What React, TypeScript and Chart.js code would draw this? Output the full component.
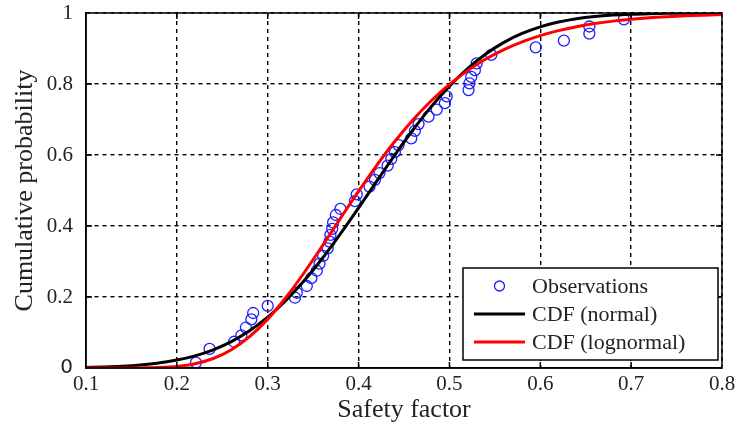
import React, { useEffect, useRef } from "react";
import { Chart, registerables } from "chart.js";

Chart.register(...registerables);

// Observations (safety factor, empirical cumulative probability)
const obsX = [0.221, 0.236, 0.263, 0.271, 0.276, 0.282, 0.284, 0.300, 0.330, 0.332, 0.343, 0.348, 0.354, 0.357, 0.361, 0.366, 0.368, 0.369, 0.371, 0.372, 0.375, 0.380, 0.396, 0.398, 0.412, 0.418, 0.423, 0.432, 0.436, 0.440, 0.444, 0.458, 0.462, 0.466, 0.477, 0.486, 0.495, 0.497, 0.521, 0.522, 0.524, 0.528, 0.530, 0.546, 0.595, 0.626, 0.654, 0.654, 0.692];
const obsY = [0.015, 0.054, 0.074, 0.092, 0.114, 0.137, 0.155, 0.175, 0.198, 0.212, 0.231, 0.253, 0.274, 0.294, 0.316, 0.337, 0.356, 0.375, 0.392, 0.410, 0.431, 0.448, 0.470, 0.489, 0.511, 0.530, 0.549, 0.570, 0.589, 0.608, 0.628, 0.647, 0.668, 0.687, 0.708, 0.728, 0.746, 0.765, 0.783, 0.802, 0.820, 0.839, 0.858, 0.882, 0.903, 0.922, 0.942, 0.962, 0.982];

// Fitted curves
const curveX = [0.10, 0.12, 0.14, 0.16, 0.18, 0.20, 0.22, 0.24, 0.26, 0.28, 0.30, 0.32, 0.34, 0.36, 0.38, 0.40, 0.42, 0.44, 0.46, 0.48, 0.50, 0.52, 0.54, 0.56, 0.58, 0.60, 0.62, 0.64, 0.66, 0.68, 0.70, 0.72, 0.74, 0.76, 0.78, 0.80];
const normalCdf = [0.0016, 0.0029, 0.0050, 0.0085, 0.0140, 0.0223, 0.0343, 0.0513, 0.0745, 0.1048, 0.1432, 0.1902, 0.2455, 0.3085, 0.3779, 0.4511, 0.5263, 0.6006, 0.6711, 0.7363, 0.7941, 0.8436, 0.8846, 0.9173, 0.9424, 0.9611, 0.9746, 0.9839, 0.9901, 0.9941, 0.9966, 0.9981, 0.9990, 0.9995, 0.9997, 0.9999];
const lognormalCdf = [0.0000, 0.0000, 0.0000, 0.0003, 0.0013, 0.0044, 0.0119, 0.0267, 0.0515, 0.0883, 0.1377, 0.1985, 0.2683, 0.3436, 0.4214, 0.4980, 0.5711, 0.6387, 0.6995, 0.7527, 0.7987, 0.8377, 0.8703, 0.8971, 0.9188, 0.9364, 0.9504, 0.9615, 0.9703, 0.9771, 0.9824, 0.9866, 0.9897, 0.9922, 0.9940, 0.9955];

const xMin = 0.1;
const xMax = 0.8;
const xStep = 0.1;
const yMin = 0;
const yMax = 1;
const yStep = 0.2;

const seriesLabels = ["Observations", "CDF (normal)", "CDF (lognormal)"];
const xTitle = "Safety factor";
const yTitle = "Cumulative probability";

const SERIF = "'Liberation Serif', 'Times New Roman', serif";
const OBS_COLOR = "#1f1fff";
const NORMAL_COLOR = "#000000";
const LOGN_COLOR = "#ff0000";

const framePlugin = {
  id: "frameAndLegend",
  afterDatasetsDraw(chart: any) {
    const { ctx, chartArea: a, scales } = chart;
    const xs = scales.x;
    const ys = scales.y;
    ctx.save();
    ctx.setLineDash([]);
    ctx.strokeStyle = "#000";
    ctx.lineWidth = 1.5;
    const tl = 6;
    ctx.beginPath();
    for (const t of xs.ticks) {
      const px = xs.getPixelForValue(t.value);
      if (px <= a.left + 1 || px >= a.right - 1) continue;
      ctx.moveTo(px, a.bottom);
      ctx.lineTo(px, a.bottom - tl);
      ctx.moveTo(px, a.top);
      ctx.lineTo(px, a.top + tl);
    }
    for (const t of ys.ticks) {
      const py = ys.getPixelForValue(t.value);
      if (py <= a.top + 1 || py >= a.bottom - 1) continue;
      ctx.moveTo(a.left, py);
      ctx.lineTo(a.left + tl, py);
      ctx.moveTo(a.right, py);
      ctx.lineTo(a.right - tl, py);
    }
    ctx.stroke();
    ctx.strokeRect(a.left, a.top, a.right - a.left, a.bottom - a.top);

    // legend
    const w = 255;
    const h = 92;
    const lx = a.right - 4 - w;
    const ly = a.bottom - 8 - h;
    ctx.fillStyle = "#fff";
    ctx.fillRect(lx, ly, w, h);
    ctx.strokeRect(lx, ly, w, h);
    const rows = [ly + 18, ly + 46, ly + 74];
    const sx0 = lx + 11;
    const sx1 = lx + 62;
    ctx.strokeStyle = OBS_COLOR;
    ctx.lineWidth = 1.3;
    ctx.beginPath();
    ctx.arc((sx0 + sx1) / 2, rows[0], 5, 0, Math.PI * 2);
    ctx.stroke();
    ctx.lineWidth = 3;
    ctx.strokeStyle = NORMAL_COLOR;
    ctx.beginPath();
    ctx.moveTo(sx0, rows[1]);
    ctx.lineTo(sx1, rows[1]);
    ctx.stroke();
    ctx.strokeStyle = LOGN_COLOR;
    ctx.beginPath();
    ctx.moveTo(sx0, rows[2]);
    ctx.lineTo(sx1, rows[2]);
    ctx.stroke();
    ctx.fillStyle = "#222";
    ctx.font = `22px ${SERIF}`;
    ctx.textAlign = "left";
    ctx.textBaseline = "middle";
    seriesLabels.forEach((lab, i) => ctx.fillText(lab, lx + 69, rows[i] + 1));
    ctx.restore();
  },
};

function fmt(v: number) {
  const r = Math.round(v * 10) / 10;
  return r === 0 ? "0" : r === 1 ? "1" : r.toFixed(1);
}

export default function App() {
  const ref = useRef<HTMLCanvasElement | null>(null);
  useEffect(() => {
    if (!ref.current) return;
    const chart = new Chart(ref.current, {
      type: "scatter",
      data: {
        datasets: [
          {
            label: seriesLabels[0],
            data: obsX.map((x, i) => ({ x, y: obsY[i] })),
            pointStyle: "circle",
            pointRadius: 5.5,
            pointBorderWidth: 1.3,
            borderColor: OBS_COLOR,
            backgroundColor: "rgba(0,0,0,0)",
            showLine: false,
            order: 3,
          },
          {
            type: "line",
            label: seriesLabels[1],
            data: curveX.map((x, i) => ({ x, y: normalCdf[i] })),
            borderColor: NORMAL_COLOR,
            borderWidth: 3,
            pointRadius: 0,
            fill: false,
            cubicInterpolationMode: "monotone",
            order: 2,
          },
          {
            type: "line",
            label: seriesLabels[2],
            data: curveX.map((x, i) => ({ x, y: lognormalCdf[i] })),
            borderColor: LOGN_COLOR,
            borderWidth: 3,
            pointRadius: 0,
            fill: false,
            cubicInterpolationMode: "monotone",
            order: 1,
          },
        ] as any,
      },
      options: {
        animation: false,
        responsive: false,
        devicePixelRatio: 1,
        layout: { padding: { left: 0, right: 0, top: 0, bottom: 0 } },
        plugins: { legend: { display: false }, tooltip: { enabled: false } },
        scales: {
          x: {
            type: "linear",
            min: xMin,
            max: xMax,
            ticks: {
              stepSize: xStep,
              callback: (v: any) => fmt(Number(v)),
              color: "#222",
              font: { family: SERIF, size: 21 },
              padding: 4,
              maxRotation: 0,
            },
            grid: { color: "#000", lineWidth: 1.4, drawTicks: false },
            border: { display: true, color: "#000", width: 1.5, dash: [4, 4] },
            title: {
              display: true,
              text: xTitle,
              color: "#222",
              font: { family: SERIF, size: 26 },
              padding: { top: 0, bottom: 3 },
            },
            afterFit: (s: any) => {
              s.height = 61;
              s.paddingRight = 13;
            },
          },
          y: {
            type: "linear",
            min: yMin,
            max: yMax,
            ticks: {
              stepSize: yStep,
              callback: (v: any) => fmt(Number(v)),
              color: "#222",
              font: (c: any) =>
                c.tick && c.tick.value === 0
                  ? { family: "'DejaVu Sans', sans-serif", size: 20 }
                  : { family: SERIF, size: 21 },
              padding: 13,
            },
            grid: { color: "#000", lineWidth: 1.4, drawTicks: false },
            border: { display: true, color: "#000", width: 1.5, dash: [4, 4] },
            title: {
              display: true,
              text: yTitle,
              color: "#222",
              font: { family: SERIF, size: 26 },
              padding: { top: 10, bottom: 0 },
            },
            afterFit: (s: any) => {
              s.width = 86;
              s.paddingTop = 13;
            },
          },
        },
      },
      plugins: [framePlugin],
    } as any);
    return () => chart.destroy();
  }, []);
  return (
    <div style={{ position: "fixed", left: 0, top: 0, width: 735, height: 429, background: "#fff" }}>
      <canvas ref={ref} width={735} height={429} style={{ display: "block" }} />
    </div>
  );
}
